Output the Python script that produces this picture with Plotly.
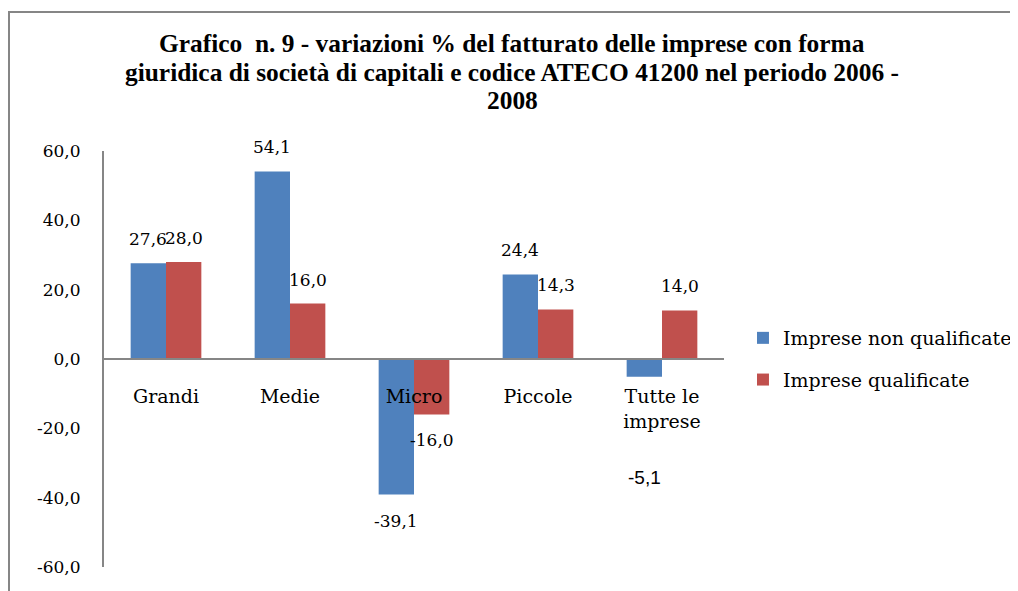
import plotly.graph_objects as go

categories = ["Grandi", "Medie", "Micro", "Piccole", "Tutte le<br>imprese"]
non_qualificate = [27.6, 54.1, -39.1, 24.4, -5.1]
qualificate = [28.0, 16.0, -16.0, 14.3, 14.0]
series_names = ["Imprese non qualificate", "Imprese qualificate"]
y_tick_values = [-60, -40, -20, 0, 20, 40, 60]
y_tick_labels = ["-60,0", "-40,0", "-20,0", "0,0", "20,0", "40,0", "60,0"]
title_lines = ["Grafico  n. 9 - variazioni % del fatturato delle imprese con forma",
               "giuridica di società di capitali e codice ATECO 41200 nel periodo 2006 -",
               "2008"]

BLUE = "#4F81BD"
RED = "#C0504D"
AXIS = "#868686"
SERIF = "DejaVu Serif"

# the page body adds an 8px offset; figure size/margins compensate for it
W, H = 1010, 583
L, R, T, B = 96, 294, 143, 24
PW, PH = W - L - R, H - T - B


def fmt(v):
    return f"{v:.1f}".replace(".", ",")


def px_to_paper_y(fig_y):
    return (T + PH - fig_y) / PH


fig = go.Figure()
fig.add_trace(go.Bar(x=categories, y=non_qualificate, name=series_names[0],
                     marker=dict(color=BLUE, line=dict(width=0)), legendgroup="a"))
fig.add_trace(go.Bar(x=categories, y=qualificate, name=series_names[1],
                     marker=dict(color=RED, line=dict(width=0)), legendgroup="b"))

# data labels
half = 17.75
annotations = []
for series, dx in ((non_qualificate, -half), (qualificate, half)):
    for cat, v in zip(categories, series):
        font = dict(family=SERIF, size=17, color="black")
        dy = 24 if v >= 0 else -26
        if cat.startswith("Tutte") and v < 0:
            dy = -101
            font = dict(family="Liberation Sans", size=19, color="black")
        annotations.append(dict(x=cat, y=v, xref="x", yref="y", text=fmt(v),
                                showarrow=False, xshift=dx, yshift=dy,
                                xanchor="center", yanchor="middle", font=font))

# title, one annotation per line to control line spacing
title_x = (512.5 - 8 - L) / PW
for line, fy in zip(title_lines, (35, 64, 92)):
    annotations.append(dict(text=line, xref="paper", yref="paper",
                            x=title_x, y=px_to_paper_y(fy), xanchor="center",
                            yanchor="middle", showarrow=False,
                            font=dict(family="Liberation Serif", size=25.4,
                                      color="black", weight="bold")))

fig.update_layout(
    width=W, height=H,
    margin=dict(l=L, r=R, t=T, b=B, pad=0, autoexpand=False),
    paper_bgcolor="white", plot_bgcolor="white",
    barmode="group", bargap=0.43, bargroupgap=0,
    xaxis=dict(anchor="free", position=0.5, showline=True, linecolor=AXIS, linewidth=2,
               ticks="", ticklabelstandoff=20, showgrid=False, zeroline=False,
               range=[-0.5, 4.5], automargin=False,
               tickfont=dict(family=SERIF, size=19, color="black")),
    yaxis=dict(range=[-60, 60], tickvals=y_tick_values, ticktext=y_tick_labels,
               showline=True, linecolor=AXIS, linewidth=2, ticks="",
               ticklabelstandoff=18, showgrid=False, zeroline=False, automargin=False,
               tickfont=dict(family=SERIF, size=17, color="black")),
    legend=dict(x=1.0306, xanchor="left", y=0.5, yanchor="middle",
                font=dict(family=SERIF, size=19, color="black"),
                traceorder="grouped", tracegroupgap=14, bgcolor="rgba(0,0,0,0)"),
    annotations=annotations,
    shapes=[dict(type="rect", xref="paper", yref="paper",
                 x0=(1 - L) / PW, x1=1.6, y0=-0.3, y1=px_to_paper_y(4),
                 line=dict(color=AXIS, width=2), layer="below")],
    showlegend=True,
)

fig.write_html("out.html")
